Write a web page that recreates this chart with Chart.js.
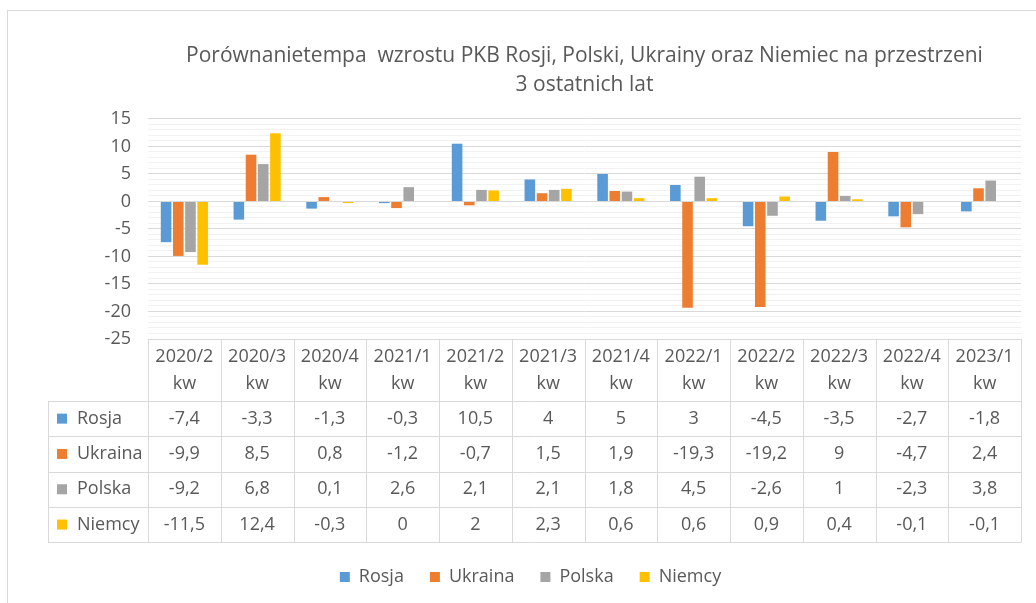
<!DOCTYPE html>
<html>
<head>
<meta charset="utf-8">
<script src="https://cdn.jsdelivr.net/npm/chart.js@4.4.1/dist/chart.umd.min.js"></script>
<style>
  html, body { margin: 0; padding: 0; background: #fff; overflow: hidden; }
  #wrap { position: relative; width: 1036px; height: 603px; }
  #frame { position: absolute; left: 7px; top: 10px; width: 1100px; height: 700px; border: 1px solid #d9d9d9; box-sizing: border-box; }
  canvas { position: absolute; left: 0; top: 0; }
</style>
</head>
<body>
<div id="wrap">
  <div id="frame"></div>
  <canvas id="chart" width="1036" height="603"></canvas>
</div>
<script>
const canvas = document.getElementById("chart");
const ctx = canvas.getContext("2d");

const quarters = ["2020/2", "2020/3", "2020/4", "2021/1", "2021/2", "2021/3", "2021/4", "2022/1", "2022/2", "2022/3", "2022/4", "2023/1"];
const seriesNames = ["Rosja", "Ukraina", "Polska", "Niemcy"];
const rosja = [-7.4, -3.3, -1.3, -0.3, 10.5, 4, 5, 3, -4.5, -3.5, -2.7, -1.8];
const ukraina = [-9.9, 8.5, 0.8, -1.2, -0.7, 1.5, 1.9, -19.3, -19.2, 9, -4.7, 2.4];
const polska = [-9.2, 6.8, 0.1, 2.6, 2.1, 2.1, 1.8, 4.5, -2.6, 1, -2.3, 3.8];
const niemcy = [-11.5, 12.4, -0.3, 0, 2, 2.3, 0.6, 0.6, 0.9, 0.4, -0.1, -0.1];
const colors = ["#5b9bd5", "#ed7d31", "#a5a5a5", "#ffc000"];
const titleLines = ["Porównanietempa  wzrostu PKB Rosji, Polski, Ukrainy oraz Niemiec na przestrzeni", "3 ostatnich lat"];

const textColor = "#595959";
const fontFamily = "'Open Sans', sans-serif";

// tabela danych pod wykresem (jak w Excelu)
const dataTable = {
  id: "dataTable",
  afterDraw(chart) {
    const x = chart.scales.x;
    const c = chart.ctx;
    const n = quarters.length;
    const w = x.width / n;
    const top = chart.chartArea.bottom;
    const headH = 62;
    const rowH = 35.3;
    const labelLeft = 48;
    const bottom = top + headH + rowH * seriesNames.length;

    c.save();
    c.strokeStyle = "#d9d9d9";
    c.lineWidth = 1;
    c.beginPath();
    for (let i = 0; i <= n; i++) {
      const px = Math.round(x.left + i * w) + 0.5;
      c.moveTo(px, top);
      c.lineTo(px, bottom);
    }
    c.moveTo(labelLeft + 0.5, top + headH);
    c.lineTo(labelLeft + 0.5, bottom);
    for (let r = 0; r <= seriesNames.length; r++) {
      const py = Math.round(top + headH + r * rowH) + 0.5;
      c.moveTo(labelLeft, py);
      c.lineTo(x.right, py);
    }
    c.stroke();

    c.font = "18px " + fontFamily;
    c.fillStyle = textColor;
    c.textBaseline = "middle";
    chart.data.datasets.forEach((ds, r) => {
      const cy = top + headH + r * rowH + rowH / 2;
      c.fillStyle = ds.backgroundColor;
      c.fillRect(labelLeft + 9, cy - 5, 10, 10);
      c.fillStyle = textColor;
      c.textAlign = "left";
      c.fillText(ds.label, labelLeft + 29, cy);
      c.textAlign = "center";
      ds.data.forEach((v, i) => {
        c.fillText(String(v).replace(".", ","), x.getPixelForValue(i), cy);
      });
    });
    c.restore();
  }
};

new Chart(ctx, {
  type: "bar",
  data: {
    labels: quarters.map(q => [q, "kw"]),
    datasets: [
      { label: seriesNames[0], data: rosja, backgroundColor: colors[0] },
      { label: seriesNames[1], data: ukraina, backgroundColor: colors[1] },
      { label: seriesNames[2], data: polska, backgroundColor: colors[2] },
      { label: seriesNames[3], data: niemcy, backgroundColor: colors[3] }
    ]
  },
  options: {
    responsive: false,
    animation: false,
    datasets: {
      bar: { categoryPercentage: 0.67, barPercentage: 0.87 }
    },
    layout: { padding: { left: 40, right: 15, top: 0, bottom: 7 } },
    plugins: {
      tooltip: { enabled: false },
      title: {
        display: true,
        fullSize: false,
        text: titleLines,
        color: textColor,
        font: { family: fontFamily, size: 21, weight: "normal", lineHeight: 1.38 },
        padding: { top: 42, bottom: 19 }
      },
      legend: {
        position: "bottom",
        labels: {
          color: textColor,
          font: { family: fontFamily, size: 18 },
          boxWidth: 10,
          boxHeight: 10,
          padding: 26
        }
      }
    },
    scales: {
      x: {
        grid: { display: false, drawTicks: false },
        border: { display: false },
        ticks: {
          color: textColor,
          font: { family: fontFamily, size: 18, lineHeight: 1.5 },
          padding: 4,
          maxRotation: 0,
          autoSkip: false
        },
        afterFit(scale) { scale.height = 203; }
      },
      y: {
        min: -25,
        max: 15,
        grid: {
          drawTicks: false,
          color: c => (c.tick && c.tick.value % 5 === 0) ? "#d9d9d9" : "#f2f2f2"
        },
        border: { display: false },
        ticks: {
          stepSize: 1,
          autoSkip: false,
          padding: 17,
          color: textColor,
          font: { family: fontFamily, size: 18 },
          callback: v => (v % 5 === 0 ? v : "")
        },
        afterFit(scale) { scale.width = 108; }
      }
    }
  },
  plugins: [dataTable]
});
</script>
</body>
</html>
